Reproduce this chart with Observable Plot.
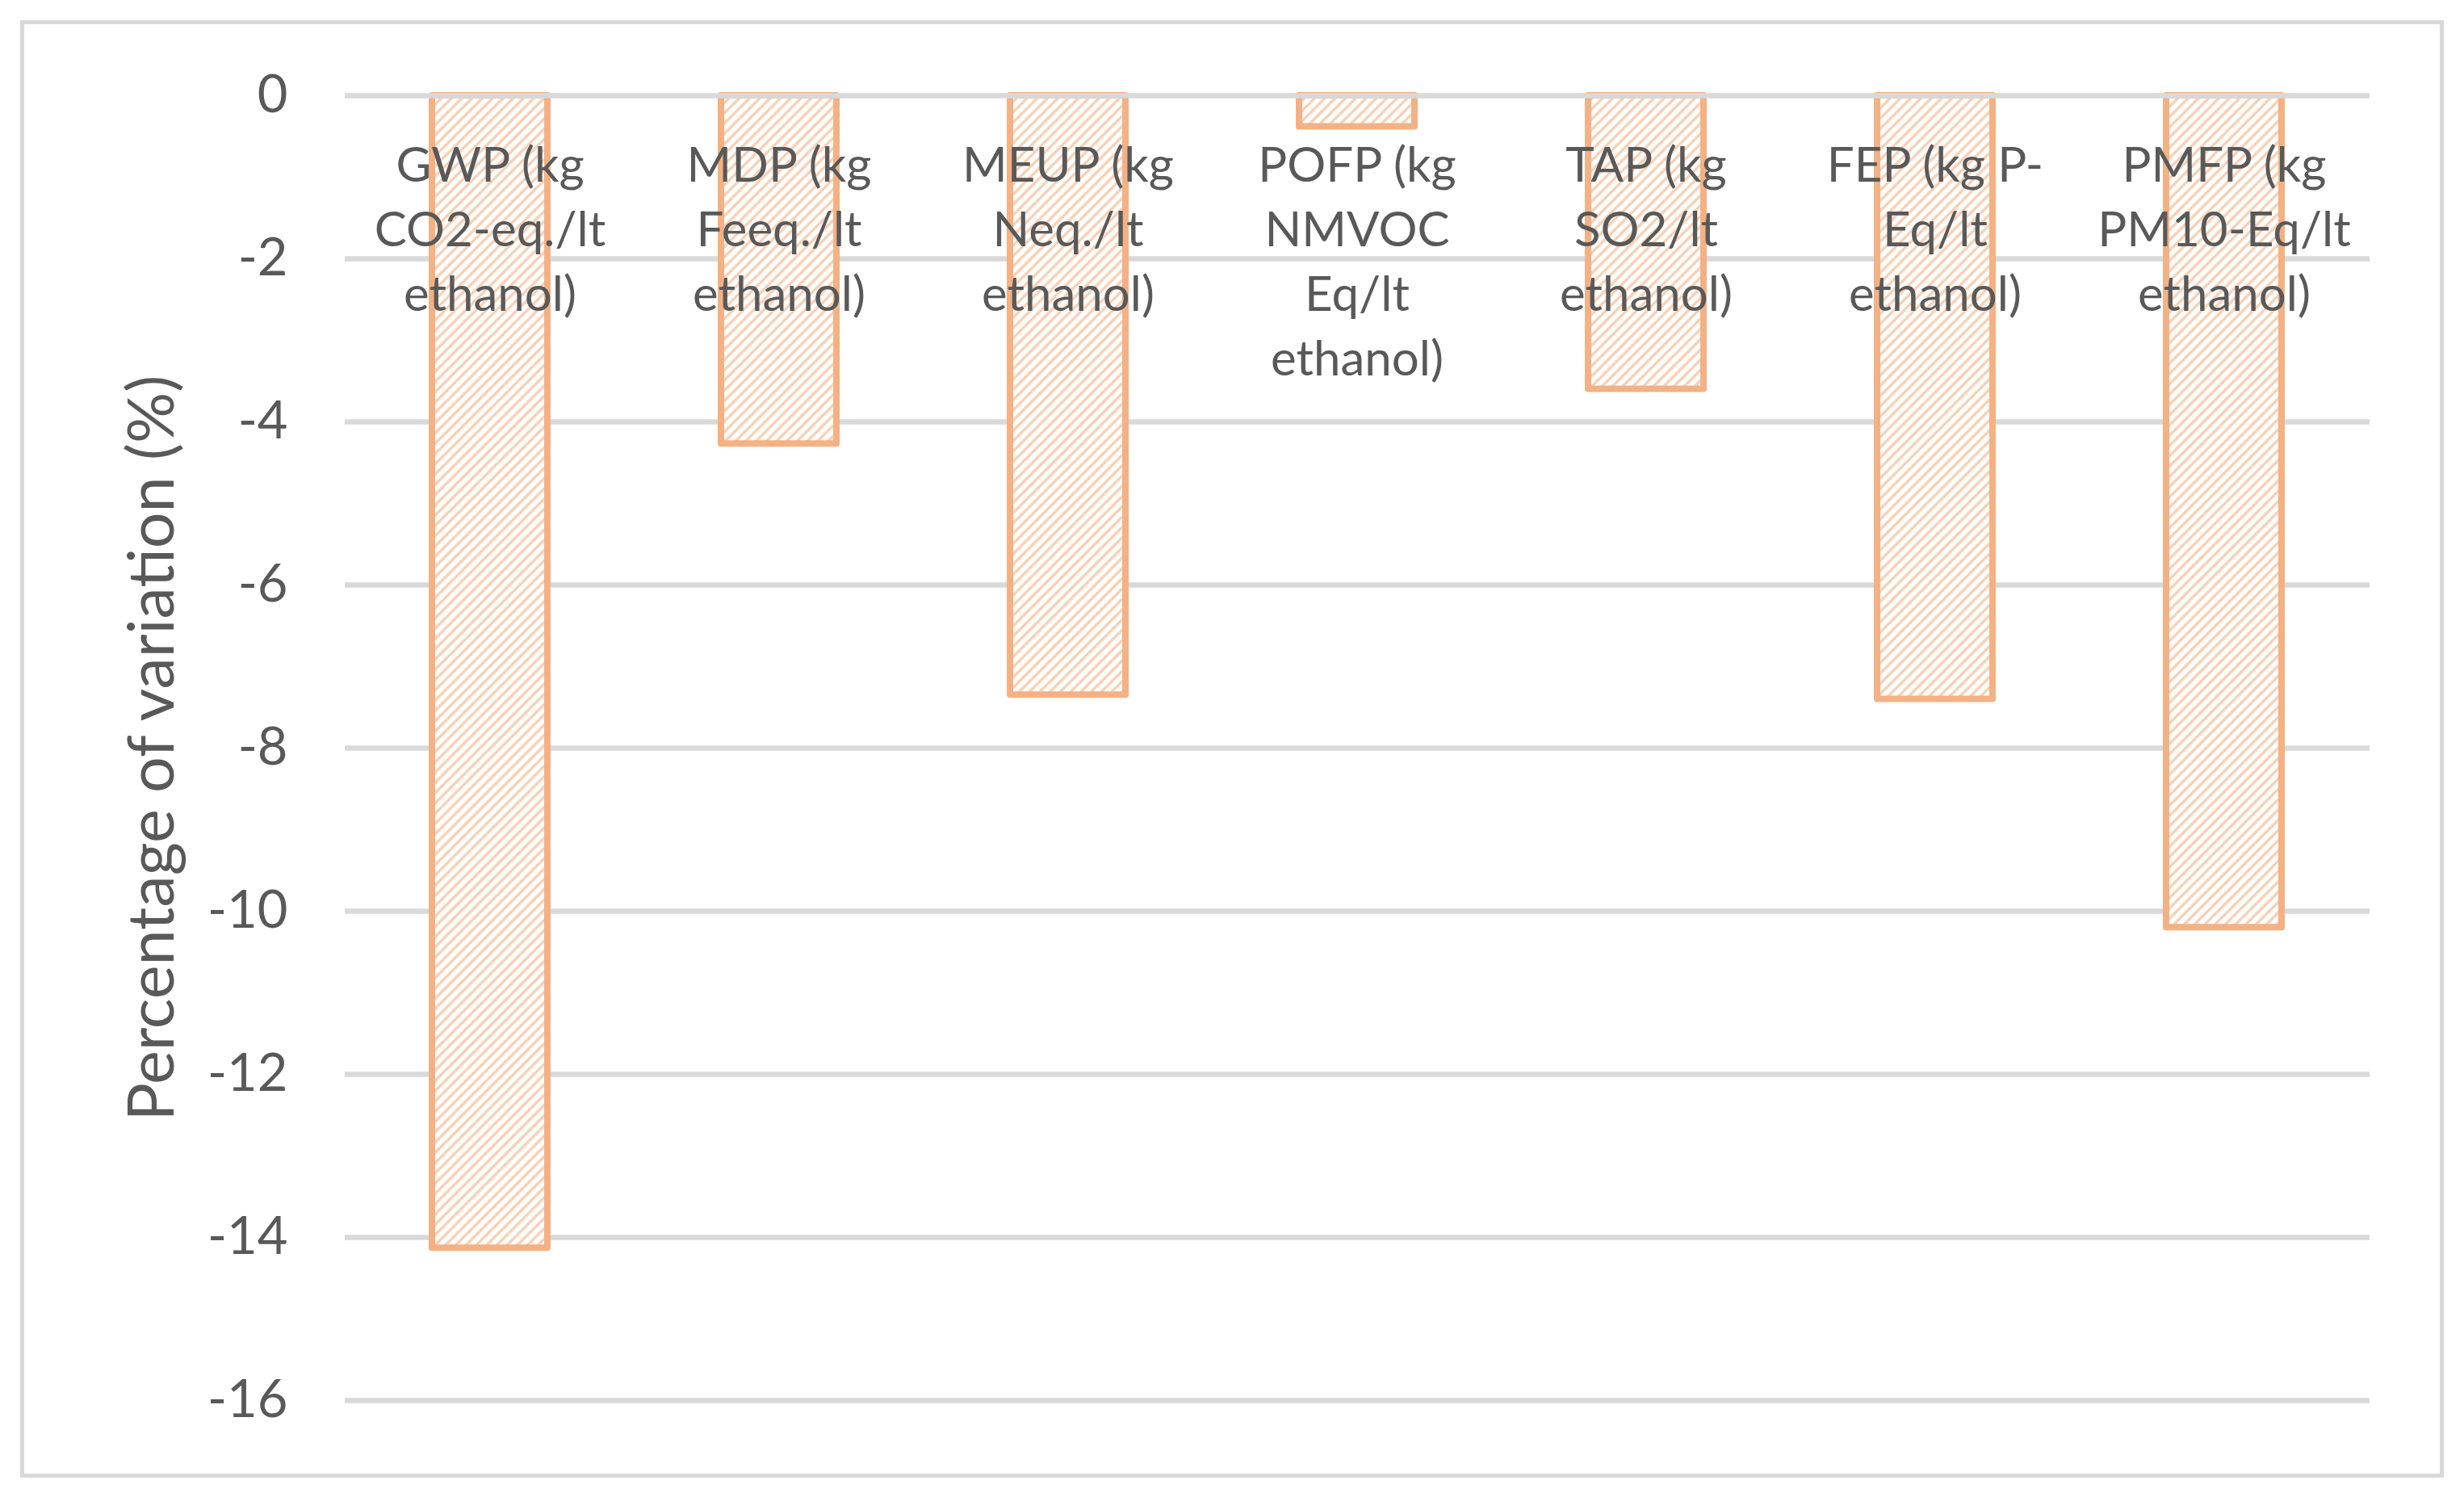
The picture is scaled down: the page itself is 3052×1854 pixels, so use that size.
<!DOCTYPE html>
<html><head><meta charset="utf-8">
<script src="https://cdn.jsdelivr.net/npm/d3@7"></script>
<script src="https://cdn.jsdelivr.net/npm/@observablehq/plot@0.6"></script>
<style>
html,body{margin:0;padding:0;background:#fff;overflow:hidden;}
#wrap{position:relative;width:3052px;height:1854px;}
#chart{position:absolute;left:0;top:0;}
#border{position:absolute;left:25px;top:25px;width:2992px;height:1795px;border:5px solid #d9d9d9;pointer-events:none;}
</style></head><body>
<div id="wrap"><div id="chart"></div><div id="border"></div></div>
<script>
const categories = [
  "GWP (kg CO2-eq./lt ethanol)",
  "MDP (kg Feeq./lt ethanol)",
  "MEUP (kg Neq./lt ethanol)",
  "POFP (kg NMVOC Eq/lt ethanol)",
  "TAP (kg SO2/lt ethanol)",
  "FEP (kg P-Eq/lt ethanol)",
  "PMFP (kg PM10-Eq/lt ethanol)"
];
const labelLines = [
  "GWP (kg\nCO2-eq./lt\nethanol)",
  "MDP (kg\nFeeq./lt\nethanol)",
  "MEUP (kg\nNeq./lt\nethanol)",
  "POFP (kg\nNMVOC\nEq/lt\nethanol)",
  "TAP (kg\nSO2/lt\nethanol)",
  "FEP (kg P-\nEq/lt\nethanol)",
  "PMFP (kg\nPM10-Eq/lt\nethanol)"
];
const values = [-14.13, -4.27, -7.35, -0.38, -3.6, -7.4, -10.2];
const yTicks = [0, -2, -4, -6, -8, -10, -12, -14, -16];
const yTickLabels = ["0", "-2", "-4", "-6", "-8", "-10", "-12", "-14", "-16"];
const yTitle = "Percentage of variation (%)";

const data = categories.map((c, i) => ({category: c, value: values[i], label: labelLines[i]}));

const chart = Plot.plot({
  width: 3052,
  height: 1854,
  marginTop: 118,
  marginBottom: 120,
  marginLeft: 427,
  marginRight: 117,
  style: {fontFamily: "Lato, sans-serif", background: "transparent", overflow: "visible"},
  x: {domain: categories, paddingInner: 0.6, paddingOuter: 0.3, axis: null},
  y: {domain: [-16, 0], axis: null},
  marks: [
    Plot.ruleY(yTicks.slice(1), {stroke: "#d9d9d9", strokeWidth: 6.5}),
    Plot.barY(data, {x: "category", y: "value", fill: "url(#hatch)", stroke: "#f4b183", strokeWidth: 8, strokeLinejoin: "round"}),
    Plot.ruleY([0], {stroke: "#d9d9d9", strokeWidth: 6.5}),
    Plot.axisY({ticks: yTicks, tickSize: 0, tickPadding: 71, fontSize: 65, color: "#595959",
      tickFormat: d => yTickLabels[yTicks.indexOf(d)], label: null}),
    Plot.text(data, {x: "category", frameAnchor: "top", text: "label", lineAnchor: "top",
      lineHeight: 80 / 60, fontSize: 60, fill: "#595959", dy: 50}),
    Plot.text([yTitle], {frameAnchor: "left", dx: -238, rotate: -90, text: d => d,
      textAnchor: "middle", fontSize: 79, fill: "#595959"})
  ]
});

d3.select(chart).insert("defs", ":first-child").html(
  `<pattern id="hatch" patternUnits="userSpaceOnUse" width="9" height="9" patternTransform="rotate(45)">
     <rect width="9" height="9" fill="#fff"/>
     <line x1="4.5" y1="-1" x2="4.5" y2="10" stroke="#f4b183" stroke-width="3.5" stroke-opacity="0.6"/>
   </pattern>`
);
document.getElementById("chart").appendChild(chart);
</script>
</body></html>
